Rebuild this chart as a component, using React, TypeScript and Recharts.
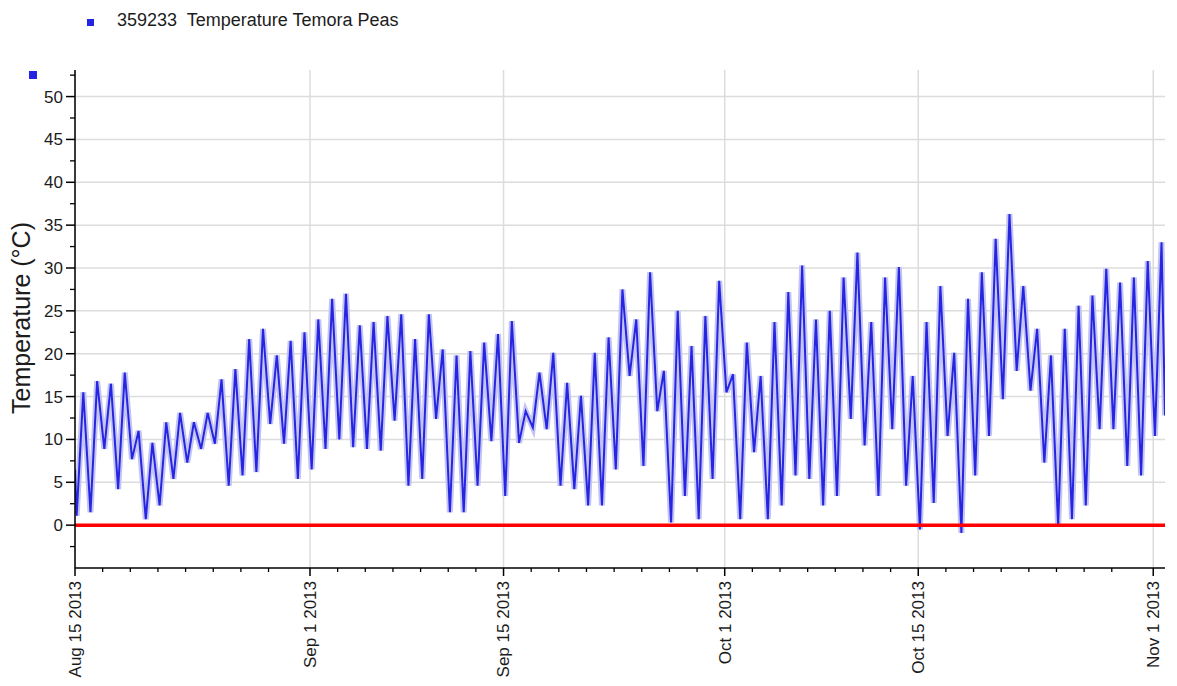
import React from "react";
import { LineChart, Line, XAxis, YAxis, CartesianGrid, ReferenceLine } from "recharts";

// days counted from Aug 15 2013 00:00
const startTemp = 6.5;
const endTemp = 12.8;

const dailyMin = [
  1.1, 1.5, 8.9, 4.2, 7.7, 0.7, 2.3, 5.4, 7.3, 8.9,
  9.5, 4.6, 5.8, 6.2, 11.8, 9.5, 5.4, 6.5, 8.9, 10,
  9.1, 8.9, 8.7, 12.2, 4.6, 5.4, 12.4, 1.5, 1.5, 4.6,
  9.8, 3.4, 9.6, 11.4, 11.2, 4.6, 4.2, 2.3, 2.3, 6.5,
  17.4, 6.9, 13.3, 0.3, 3.4, 0.7, 5.4, 15.5, 0.7, 8.5,
  0.7, 2.3, 5.8, 5.4, 2.3, 3.4, 12.4, 9.3, 3.4, 11.2,
  4.6, -0.5, 2.6, 10.4, -0.9, 5.8, 10.4, 14.7, 18, 15.7,
  7.3, -0.1, 0.7, 2.3, 11.2, 11.2, 6.9, 5.8, 10.4,
];

const dailyMax = [
  15.5, 16.8, 16.5, 17.8, 11, 9.6, 12, 13.1, 12, 13.1,
  17, 18.2, 21.7, 22.9, 19.8, 21.5, 22.5, 24, 26.4, 27,
  23.3, 23.7, 24.4, 24.6, 21.7, 24.6, 20.5, 19.8, 20.3, 21.3,
  22.3, 23.8, 13.3, 17.8, 20.1, 16.6, 15.1, 20.1, 21.9, 27.5,
  24, 29.5, 18, 25, 20.9, 24.4, 28.5, 17.6, 21.3, 17.4,
  23.7, 27.2, 30.3, 24, 25, 28.9, 31.8, 23.7, 28.9, 30.1,
  17.4, 23.7, 27.9, 20.1, 26.4, 29.5, 33.4, 36.3, 27.9, 22.9,
  19.8, 22.9, 25.6, 26.8, 29.9, 28.3, 28.9, 30.8, 33,
];

const majorDays = [0, 17, 31, 47, 61, 78];
const majorLabels = ["Aug 15 2013", "Sep 1 2013", "Sep 15 2013", "Oct 1 2013", "Oct 15 2013", "Nov 1 2013"];
const minorDays = [
  2, 4, 6, 8, 10, 12, 14,
  19, 21, 23, 25, 27, 29, 33, 35, 37, 39, 41, 43, 45,
  49, 51, 53, 55, 57, 59, 63, 65, 67, 69, 71, 73, 75,
];
const yLabelTicks = [0, 5, 10, 15, 20, 25, 30, 35, 40, 45, 50];
const yMinorTicks = [-2.5, 2.5, 7.5, 12.5, 17.5, 22.5, 27.5, 32.5, 37.5, 42.5, 47.5, 52.5];

const MIN_HOUR = 0.12;
const MAX_HOUR = 0.6;

const data: { t: number; v: number }[] = [{ t: 0, v: startTemp }];
dailyMin.forEach((lo, i) => {
  data.push({ t: i + MIN_HOUR, v: lo });
  data.push({ t: i + MAX_HOUR, v: dailyMax[i] });
});
data.push({ t: 78.85, v: endTemp });

const FONT = '"Liberation Sans", Arial, sans-serif';
const TEXT = "#1c1c1c";

function XTick({ x, y, payload }: any) {
  const i = majorDays.indexOf(payload.value);
  if (i < 0) return <line x1={x} y1={y} x2={x} y2={y + 4} stroke="#000" strokeWidth={1.3} />;
  return (
    <g>
      <line x1={x} y1={y} x2={x} y2={y + 8} stroke="#000" strokeWidth={1.5} />
      <text
        x={x}
        y={y + 13}
        transform={`rotate(-90 ${x} ${y + 13})`}
        textAnchor="end"
        dy="0.35em"
        fontSize={17}
        fontFamily={FONT}
        fill={TEXT}
      >
        {majorLabels[i]}
      </text>
    </g>
  );
}

function YTick({ x, y, payload }: any) {
  const major = yLabelTicks.includes(payload.value);
  if (!major) return <line x1={x - 5} y1={y} x2={x} y2={y} stroke="#000" strokeWidth={1.3} />;
  return (
    <g>
      <line x1={x - 9} y1={y} x2={x} y2={y} stroke="#000" strokeWidth={1.5} />
      <text x={x - 12} y={y} dy="0.35em" textAnchor="end" fontSize={17} fontFamily={FONT} fill={TEXT}>
        {payload.value}
      </text>
    </g>
  );
}

export default function App() {
  return (
    <div style={{ position: "absolute", left: 0, top: 0, width: 1177, height: 686, background: "#fff" }}>
      <div style={{ position: "absolute", left: 87, top: 19, width: 7, height: 7, background: "#2323e6" }} />
      <div
        style={{
          position: "absolute",
          left: 117,
          top: 10,
          fontFamily: FONT,
          fontSize: 18,
          color: TEXT,
          whiteSpace: "pre",
        }}
      >
        {"359233  Temperature Temora Peas"}
      </div>
      <div style={{ position: "absolute", left: 29, top: 71, width: 8, height: 8, background: "#2323e6" }} />
      <LineChart width={1177} height={686} data={data} margin={{ top: 70, right: 12, bottom: 0, left: 0 }}>
        <CartesianGrid
          stroke="#dcdcdc"
          strokeWidth={1.5}
          horizontalValues={yLabelTicks}
          verticalValues={majorDays}
        />
        <XAxis
          dataKey="t"
          type="number"
          domain={[0, 78.85]}
          ticks={[...majorDays, ...minorDays].sort((a, b) => a - b)}
          interval={0}
          height={118}
          tickSize={0}
          tickMargin={0}
          tickLine={false}
          axisLine={{ stroke: "#000", strokeWidth: 1.5 }}
          tick={<XTick />}
          allowDataOverflow
        />
        <YAxis
          type="number"
          domain={[-5, 53.1]}
          ticks={[...yLabelTicks, ...yMinorTicks].sort((a, b) => a - b)}
          interval={0}
          width={75}
          tickSize={0}
          tickMargin={0}
          tickLine={false}
          axisLine={{ stroke: "#000", strokeWidth: 1.5 }}
          tick={<YTick />}
          allowDataOverflow
          label={() => (
            <text
              x={30}
              y={318}
              transform="rotate(-90 30 318)"
              textAnchor="middle"
              fontSize={25}
              fontFamily={FONT}
              fill={TEXT}
            >
              Temperature (°C)
            </text>
          )}
        />
        <Line
          dataKey="v"
          type="linear"
          stroke="#c4c4f3"
          strokeWidth={6}
          dot={false}
          isAnimationActive={false}
        />
        <Line
          dataKey="v"
          type="linear"
          stroke="#2626e2"
          strokeWidth={2}
          dot={false}
          isAnimationActive={false}
        />
        <ReferenceLine y={0} stroke="#ff0000" strokeWidth={3.5} />
      </LineChart>
    </div>
  );
}
